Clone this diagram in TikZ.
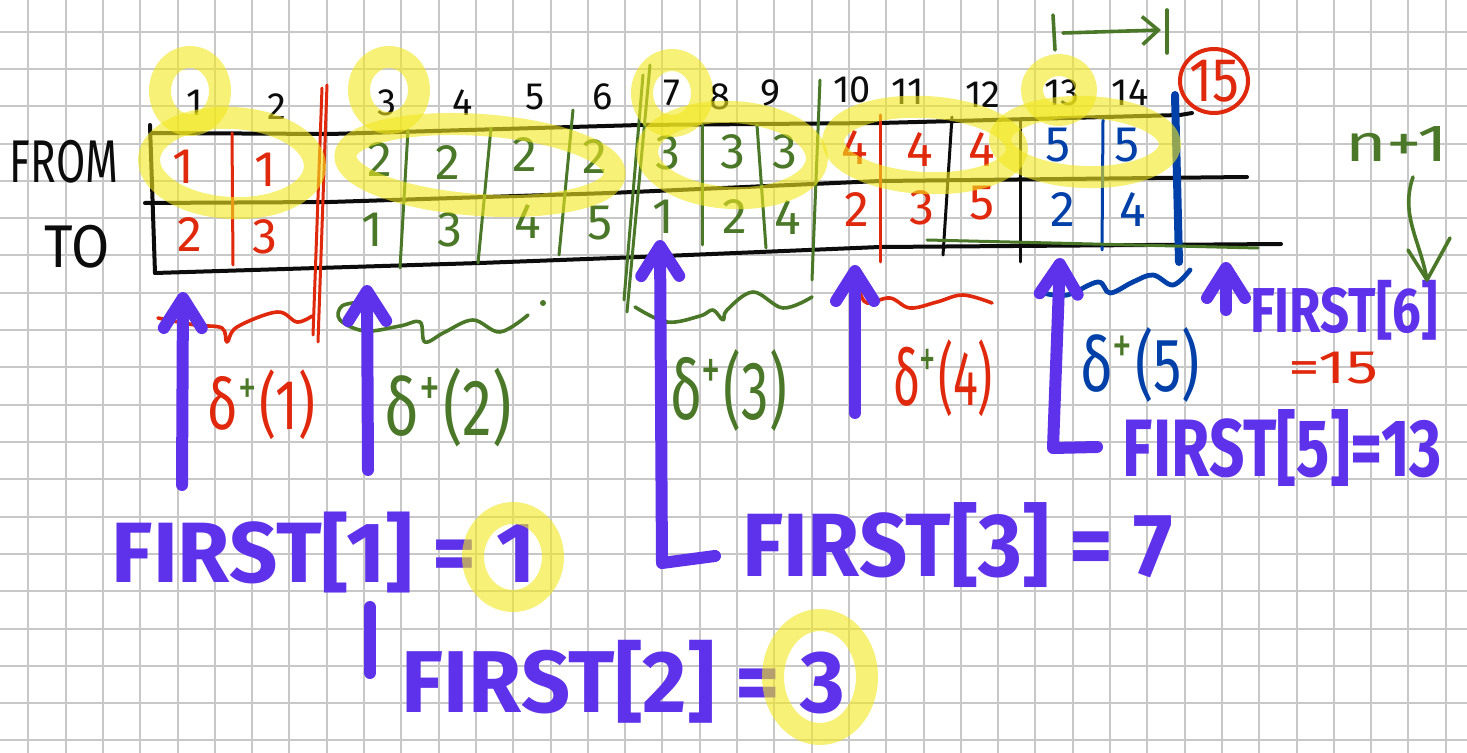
\documentclass[tikz,border=0pt]{standalone}
\usepackage{fontspec}
\setmainfont{Fira Sans}
\usepackage{graphicx}
\usetikzlibrary{arrows.meta}
\definecolor{gridc}{RGB}{200,200,200}
\definecolor{pur}{RGB}{94,50,234}
\definecolor{rd}{RGB}{224,40,12}
\definecolor{grn}{RGB}{75,120,40}
\definecolor{blu}{RGB}{0,64,168}
\definecolor{ink}{RGB}{12,12,12}
\definecolor{hl}{RGB}{242,232,30}
\newcommand{\fitbox}[3]{\resizebox*{#1}{#2}{#3}}
\newcommand{\dplus}[2]{\textcolor{#1}{δ}\textsuperscript{\textcolor{grn}{+}}\textcolor{#1}{(#2)}}
\begin{document}
\begin{tikzpicture}[x=0.5pt,y=-0.5pt,line cap=round,line join=round,
  tbl/.style={draw=ink,line width=2pt},
  sepl/.style={line width=1.5pt},
  hlt/.style={draw=hl,line width=11pt,opacity=0.6},
  parrow/.style={draw=pur,line width=6pt,-{Straight Barb[length=15pt,width=19pt,round]}},
  pline/.style={draw=pur,line width=6pt},
  brc/.style={line width=1.8pt},
  lbl/.style={inner sep=0pt,anchor=center},
  hdr/.style={inner sep=0pt,text=ink,font=\fontsize{19}{19}\selectfont},
  cell/.style={inner sep=0pt,font=\fontsize{25}{25}\selectfont},
]
\useasboundingbox (0,0) rectangle (1467,753);
\fill[white] (0,0) rectangle (1467,753);
% grid
\foreach \i in {0,...,40} \draw[gridc,line width=1pt] ({-9+37.3*\i},0) -- ({-9+37.3*\i},753);
\foreach \j in {0,...,21} \draw[gridc,line width=1pt] (0,{-5.6+37.3*\j}) -- (1467,{-5.6+37.3*\j});

% row labels
\node[lbl,text=ink] (from) at (64,161.5) {\fitbox{54pt}{21.5pt}{FROM}};
\node[lbl,text=ink] (to) at (77.5,246.5) {\fitbox{32.5pt}{21.5pt}{TO}};

% table lines
\draw[tbl] (152,133) -- (330,134) -- (640,125) -- (880,123) -- (1180,115) -- (1192,113);
\draw[tbl] (145,203) -- (330,202) -- (610,193) -- (880,181) -- (1247,177);
\draw[tbl] (155,273) -- (480,263) -- (640,257) -- (880,247) -- (1281,244);
\draw[tbl] (150,125) -- (155,273);

% separators
\draw[sepl,rd] (232,133) -- (233,265);
\draw[sepl,rd] (327,85) -- (318,342);
\draw[sepl,rd] (322,88) -- (313,335);
\draw[sepl,grn] (408,130) -- (400,268);
\draw[sepl,grn] (491,128) -- (478,263);
\draw[sepl,grn] (573,110) -- (559,255);
\draw[sepl,grn] (650,65) -- (627,312);
\draw[sepl,grn] (643,75) -- (624,300);
\draw[sepl,grn] (702,125) -- (702,245);
\draw[sepl,grn] (757,125) -- (766,248);
\draw[sepl,grn] (820,80) -- (812,280);
\draw[sepl,rd] (880,115) -- (880,262);
\draw[sepl,ink] (952,117) -- (943,255);
\draw[sepl,ink] (1020,120) -- (1020,262);
\draw[sepl,blu] (1103,120) -- (1102,250);
\draw[blu,line width=4pt] (1175,95) -- (1179,262);
\draw[sepl,grn] (927,240) -- (1258,248);

% headers
\foreach \x/\y/\t [count=\i] in {195/103/1,277/107/2,387/103/3,463/103/4,535/97/5,603/97/6,672/93/7,720/97/8,770/93/9,852/90/10,908/92/11,983/95/12,1062/93/13,1130/93/14}
  \node[hdr] (h\i) at (\x,\y) {\t};

% FROM row
\foreach \x/\y/\c/\t [count=\i] in {183/167/rd/1,265/170/rd/1,380/160/grn/2,448/163/grn/2,525/155/grn/2,595/157/grn/2,668/153/grn/3,733/152/grn/3,785/152/grn/3,855/148/rd/4,920/150/rd/4,982/150/rd/4,1058/145/blu/5,1127/145/blu/5}
  \node[cell,text=\c] (f\i) at (\x,\y) {\t};
% TO row
\foreach \x/\y/\c/\t [count=\i] in {190/235/rd/2,265/237/rd/3,372/230/grn/1,450/230/grn/3,528/222/grn/4,600/223/grn/5,663/217/grn/1,735/217/grn/2,788/218/grn/4,857/210/rd/2,922/208/rd/3,982/203/rd/5,1063/210/blu/2,1133/210/blu/4}
  \node[cell,text=\c] (t\i) at (\x,\y) {\t};

% 15 circled
\node[lbl,text=rd] (n15) at (1214,81) {\fitbox{25pt}{21pt}{15}};
\draw[rd,line width=2pt] (n15.center) ellipse [x radius=17pt,y radius=16pt];

% top green interval arrow
\coordinate (ga) at (1063,33);
\coordinate (gb) at (1161,30);
\draw[grn,line width=1.8pt] (1053,15) -- (1055,50);
\draw[grn,line width=1.8pt] (1167,10) -- (1167,53);
\draw[grn,line width=1.8pt,-{Straight Barb[length=8pt,width=14pt]}] (ga) -- (gb);

% braces
\draw[brc,rd] plot[smooth,tension=0.6] coordinates {(158,318) (195,325) (222,328) (227,342) (237,327) (277,312) (297,322) (312,316)};
\draw[brc,grn] plot[smooth,tension=0.6] coordinates {(362,302) (342,306) (340,320) (365,331) (400,326) (420,322) (425,342) (445,332) (473,320) (500,332) (528,315)};
\fill[grn] (543,303) circle (1.5pt);
\draw[brc,grn] plot[smooth,tension=0.6] coordinates {(635,307) (667,322) (700,316) (713,310) (723,320) (727,310) (753,292) (783,308) (812,297)};
\draw[brc,rd] plot[smooth,tension=0.6] coordinates {(860,292) (867,303) (890,298) (910,308) (937,302) (963,295) (992,303)};
\draw[blu,line width=2.4pt] plot[smooth,tension=0.6] coordinates {(1043,293) (1067,295) (1098,282) (1110,293) (1133,282) (1153,275) (1173,285) (1190,270)};

% delta labels
\node[lbl] (d1) at (261.5,405) {\fitbox{53.5pt}{35pt}{\dplus{rd}{1}}};
\node[lbl] (d2) at (448.5,407.5) {\fitbox{63.5pt}{39.5pt}{\dplus{grn}{2}}};
\node[lbl] (d3) at (728.5,391) {\fitbox{58.5pt}{41pt}{\dplus{grn}{3}}};
\node[lbl] (d4) at (943,378.5) {\fitbox{50pt}{38.5pt}{\dplus{rd}{4}}};
\node[lbl] (d5) at (1140,364.5) {\fitbox{60pt}{37.5pt}{\dplus{blu}{5}}};

% purple arrows
\coordinate (a1b) at (182,485); \coordinate (a1t) at (183,292);
\coordinate (a2b) at (368,470); \coordinate (a2t) at (367,285);
\coordinate (a3f) at (715,556); \coordinate (a3c) at (662,563); \coordinate (a3t) at (660,240);
\coordinate (a4b) at (855,413); \coordinate (a4t) at (855,265);
\coordinate (a5f) at (1097,447); \coordinate (a5c) at (1053,448); \coordinate (a5t) at (1060,258);
\coordinate (a6b) at (1226,310); \coordinate (a6t) at (1226,262);
\draw[parrow] (a1b) -- (a1t);
\draw[parrow] (a2b) -- (a2t);
\draw[parrow] (a3f) -- (a3c) -- (a3t);
\draw[parrow] (a4b) -- (a4t);
\draw[parrow] (a5f) -- (a5c) -- (a5t);
\draw[parrow] (a6b) -- (a6t);
\coordinate (s1) at (370,607); \coordinate (s2) at (370,673);
\draw[pline] (s1) -- (s2);

% FIRST labels
\node[lbl,text=pur] (first1) at (324,552.5) {\fitbox{212pt}{40.5pt}{\bfseries FIRST[1] = 1}};
\node[lbl,text=pur] (first2) at (623.5,681.5) {\fitbox{221.5pt}{41.5pt}{\bfseries FIRST[2] = 3}};
\node[lbl,text=pur] (first3) at (957.5,545.5) {\fitbox{215.5pt}{42.5pt}{\bfseries FIRST[3] = 7}};
\node[lbl,text=pur] (first5) at (1282.5,448.5) {\fitbox{159.5pt}{38.5pt}{\bfseries FIRST[5]=13}};
\node[lbl,text=pur] (first6) at (1344,310) {\fitbox{94pt}{30pt}{\bfseries FIRST[6]}};
\node[lbl,text=rd] (eq15) at (1333,368) {\fitbox{45pt}{16pt}{=15}};

% n+1 and its arrow
\node[lbl,text=grn] (np1) at (1396.5,144.5) {\fitbox{51.5pt}{17.5pt}{n+1}};
\coordinate (ntip) at (1427,280);
\draw[grn,line width=1.8pt] (1413,177) .. controls (1400,215) and (1420,240) .. (ntip);
\draw[grn,line width=1.8pt] (1408,250) -- (ntip) -- (1450,238);

% yellow highlights
\draw[hlt] (190,91) ellipse [x radius=15pt,y radius=17pt];
\draw[hlt,rotate around={-3:(232,163)}] (232,163) ellipse [x radius=41.5pt,y radius=22.5pt];
\draw[hlt] (389,90) ellipse [x radius=15pt,y radius=16.5pt];
\draw[hlt,rotate around={-4:(480,165)}] (480,165) ellipse [x radius=67.5pt,y radius=20pt];
\draw[hlt] (672,93) ellipse [x radius=15pt,y radius=16.5pt];
\draw[hlt,rotate around={-3:(732,155)}] (732,155) ellipse [x radius=42.5pt,y radius=21.5pt];
\draw[hlt,rotate around={-3:(925,145)}] (925,145) ellipse [x radius=46pt,y radius=19pt];
\draw[hlt] (1059,90) ellipse [x radius=13.5pt,y radius=12.5pt];
\draw[hlt,rotate around={-2:(1085,142)}] (1085,142) ellipse [x radius=42.5pt,y radius=17.5pt];
\draw[hlt] (513,557) ellipse [x radius=20pt,y radius=22pt];
\draw[hlt] (820,677) ellipse [x radius=23.5pt,y radius=28.5pt];
\end{tikzpicture}
\end{document}
